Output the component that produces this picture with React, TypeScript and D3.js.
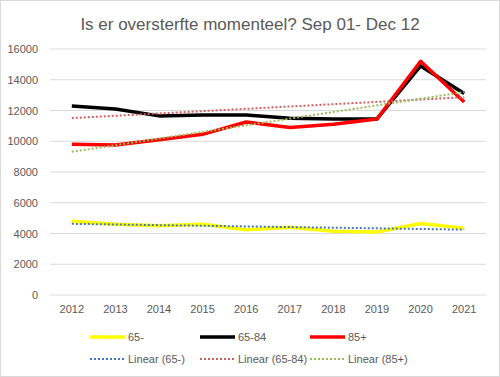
import React from "react";
import * as d3 from "d3";

const years = ["2012","2013","2014","2015","2016","2017","2018","2019","2020","2021"];
const under65 = [4800,4600,4500,4600,4250,4400,4150,4100,4650,4350];
const age65to84 = [12300,12100,11650,11700,11700,11500,11450,11450,14900,13100];
const age85plus = [9800,9750,10100,10450,11250,10900,11100,11450,15200,12550];
const yTicks = [0,2000,4000,6000,8000,10000,12000,14000,16000];
const title = "Is er oversterfte momenteel? Sep 01- Dec 12";

const series = [
  { name: "65-", values: under65, color: "#FFFF00", trendColor: "#4472C4" },
  { name: "65-84", values: age65to84, color: "#000000", trendColor: "#D0605E" },
  { name: "85+", values: age85plus, color: "#FF0000", trendColor: "#9BBB59" },
];

function linFit(vals: number[]) {
  const n = vals.length;
  const xs = vals.map((_, i) => i);
  const mx = d3.mean(xs)!;
  const my = d3.mean(vals)!;
  let num = 0, den = 0;
  xs.forEach((x, i) => { num += (x - mx) * (vals[i] - my); den += (x - mx) ** 2; });
  const b = num / den;
  const a = my - b * mx;
  return xs.map((x) => a + b * x);
}

export default function App() {
  const W = 500, H = 377;
  const left = 50, right = 486, top = 49, bottom = 295;
  const x = d3.scaleBand().domain(years).range([left, right]);
  const y = d3.scaleLinear().domain([0, 16000]).range([bottom, top]);
  const cx = (i: number) => x(years[i])! + x.bandwidth() / 2;
  const line = d3.line<number>().x((_, i) => cx(i)).y((d) => y(d));
  const font = "'Liberation Sans', Arial, sans-serif";
  const grey = "#595959";
  const legendX = [90, 200, 310];
  return (
    <svg width={W} height={H} style={{ position: "absolute", left: 0, top: 0, background: "#fff" }} fontFamily={font}>
      <rect x={0.5} y={0.5} width={W - 1} height={H - 1} fill="#fff" stroke="#d9d9d9" />
      <text x={250} y={30} textAnchor="middle" fontSize={17} fill={grey}>{title}</text>
      {yTicks.map((t) => (
        <g key={t}>
          <line x1={left} x2={right} y1={y(t)} y2={y(t)} stroke="#d9d9d9" strokeWidth={1} />
          <text x={38} y={y(t) + 4} textAnchor="end" fontSize={11} fill={grey}>{t}</text>
        </g>
      ))}
      {years.map((yr, i) => (
        <text key={yr} x={cx(i)} y={313} textAnchor="middle" fontSize={11} fill={grey}>{yr}</text>
      ))}
      {series.map((s) => (
        <path key={s.name} d={line(s.values)!} fill="none" stroke={s.color} strokeWidth={3.5} strokeLinejoin="round" />
      ))}
      {series.map((s) => (
        <path key={s.name + "t"} d={line(linFit(s.values))!} fill="none" stroke={s.trendColor} strokeWidth={2} strokeDasharray="2 2" />
      ))}
      {series.map((s, i) => (
        <g key={s.name + "l"}>
          <line x1={legendX[i]} x2={legendX[i] + 35} y1={337} y2={337} stroke={s.color} strokeWidth={3.5} />
          <text x={legendX[i] + 38} y={341} fontSize={11} fill={grey}>{s.name}</text>
          <line x1={legendX[i]} x2={legendX[i] + 35} y1={359} y2={359} stroke={s.trendColor} strokeWidth={2} strokeDasharray="2 2" />
          <text x={legendX[i] + 38} y={363} fontSize={11} fill={grey}>{`Linear (${s.name})`}</text>
        </g>
      ))}
    </svg>
  );
}
